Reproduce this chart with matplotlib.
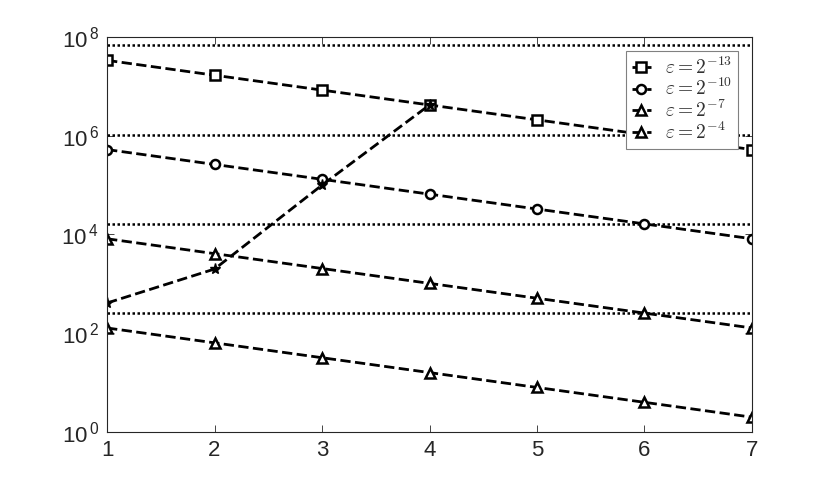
import numpy as np
import matplotlib
matplotlib.use('Agg')
import matplotlib.pyplot as plt
from matplotlib.font_manager import FontProperties
from matplotlib.ticker import FixedLocator, NullLocator, FuncFormatter

plt.rcParams['font.family'] = ['Liberation Sans', 'DejaVu Sans']
plt.rcParams['mathtext.fontset'] = 'custom'
plt.rcParams['mathtext.rm'] = 'Liberation Sans'
plt.rcParams['mathtext.it'] = 'Liberation Sans:italic'

# data
x = [1, 2, 3, 4, 5, 6, 7]
eps13 = [2**25, 2**24, 2**23, 2**22, 2**21, 2**20, 2**19]
eps10 = [2**19, 2**18, 2**17, 2**16, 2**15, 2**14, 2**13]
eps7 = [2**13, 2**12, 2**11, 2**10, 2**9, 2**8, 2**7]
eps4 = [2**7, 2**6, 2**5, 2**4, 2**3, 2**2, 2**1]
rise_x = [1, 2, 3, 4]
rise_y = [410, 2000, 1.0e5, 4.2e6]
ref_levels = [2**26, 2**20, 2**14, 2**8]
labels = [r'$\varepsilon = 2^{-13}$', r'$\varepsilon = 2^{-10}$',
          r'$\varepsilon = 2^{-7}$', r'$\varepsilon = 2^{-4}$']

gray = '#262626'
fig = plt.figure(figsize=(8.3, 4.86), dpi=100)
ax = fig.add_axes([0.129, 0.111, 0.777, 0.813])

for lvl in ref_levels:
    ax.plot([1, 7], [lvl, lvl], color='k', lw=1.8, linestyle=(0, (1, 1)))

style = dict(color='k', lw=2, linestyle='--', markersize=6.5, markeredgewidth=1.8,
             markerfacecolor='white', markeredgecolor='k')
ax.plot(x, eps13, marker='s', label=labels[0], **style)
ax.plot(x, eps10, marker='o', label=labels[1], **style)
ax.plot(x, eps7, marker='^', label=labels[2], **style)
ax.plot(x, eps4, marker='^', label=labels[3], **style)
ax.plot(rise_x, rise_y, color='k', lw=2, linestyle='--', marker='*', markersize=8)

ax.set_yscale('log')
ax.set_xlim(1, 7)
ax.set_ylim(1, 1e8)
ax.yaxis.set_major_locator(FixedLocator([1, 1e2, 1e4, 1e6, 1e8]))
ax.yaxis.set_minor_locator(NullLocator())
ax.yaxis.set_major_formatter(FuncFormatter(
    lambda v, p: r'$\mathdefault{10^{\,%d}}$' % round(np.log10(v))))
ax.set_xticks(x)

for s in ax.spines.values():
    s.set_color(gray)
    s.set_linewidth(0.8)
ax.tick_params(which='both', direction='in', top=True, right=True, length=5,
               width=0.6, color=gray, labelcolor=gray, labelsize=16, pad=6)

leg = ax.legend(loc='upper right', bbox_to_anchor=(0.978, 0.965), borderaxespad=0,
                handlelength=1.0, handletextpad=0.7, borderpad=0.3, labelspacing=0.02,
                fancybox=False, framealpha=1, edgecolor='#808080',
                prop=FontProperties(size=14, math_fontfamily='cm'))
leg.get_frame().set_linewidth(0.8)
for t in leg.get_texts():
    t.set_color('#333333')

fig.savefig('out.png', dpi=100)
